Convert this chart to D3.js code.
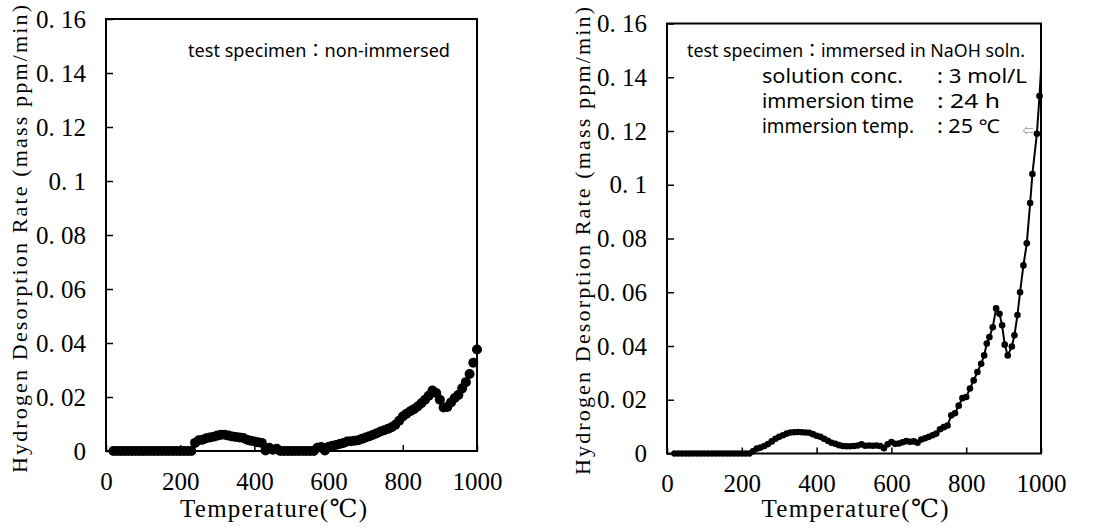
<!DOCTYPE html>
<html>
<head>
<meta charset="utf-8">
<script src="https://cdn.jsdelivr.net/npm/d3@7"></script>
<style>
body{margin:0;background:#fff;}
svg{display:block;}
</style>
</head>
<body>
<div id="plot"></div>
<script>
// axis ticks
var yTicks = [0, 0.02, 0.04, 0.06, 0.08, 0.1, 0.12, 0.14, 0.16];
var yTickLabels = ["0", "0. 02", "0. 04", "0. 06", "0. 08", "0. 1", "0. 12", "0. 14", "0. 16"];
var xTicks = [0, 200, 400, 600, 800, 1000];

var xTitle = "Temperature(℃)";
var yTitle = "Hydrogen Desorption Rate (mass ppm/min)";

// non-immersed specimen
var leftTemp = [20,30,40,50,60,70,80,90,100,110,120,130,140,150,160,170,180,190,200,210,220,230,
  240,250,260,270,280,290,300,310,320,330,340,350,360,370,380,390,400,410,420,430,440,450,460,470,
  480,490,500,510,520,530,540,550,560,570,580,590,600,610,620,630,640,650,660,670,680,690,700,710,
  720,730,740,750,760,770,780,790,800,810,820,830,840,850,860,870,880,890,900,910,920,930,940,950,
  960,970,980,990,1000];
var leftRate = [0,0,0,0,0,0,0,0,0,0,0,0,0,0,0,0,0,0,0,0,0,0,
  0.0030,0.0040,0.0042,0.0047,0.0050,0.0053,0.0057,0.0060,0.0060,0.0057,0.0054,0.0052,0.0050,0.0048,
  0.0042,0.0038,0.0035,0.0032,0.0030,0.0002,0.0012,0.0005,0.0008,0,
  0,0,0,0,0,0,0,0,0,0.0012,0.0015,0.0002,0.0016,0.0019,0.0022,0.0026,0.0030,0.0035,0.0036,0.0038,
  0.0040,0.0045,0.0050,0.0055,0.0060,0.0066,0.0072,0.0077,0.0082,0.0088,0.0097,0.0112,0.0128,0.0138,
  0.0147,0.0155,0.0165,0.0177,0.0190,0.0205,0.0224,0.0215,0.0190,0.0161,0.0163,0.0180,0.0196,0.0208,
  0.0232,0.0255,0.0285,0.0327,0.0376];

// specimen immersed in NaOH
var rightTemp = [20,30,40,50,60,70,80,90,100,110,120,130,140,150,160,170,180,190,200,210,220,
  230,240,250,260,270,280,290,300,310,320,330,340,350,360,370,380,390,400,410,420,430,440,450,460,
  470,480,490,500,510,520,530,540,550,560,570,580,590,600,610,620,630,640,650,660,670,680,690,700,
  710,720,730,740,750,760,770,780,790,800,810,820,830,840,848,855,862,871,880,889,896,903,911,922,
  929,937,944,953,962,971,977,989,996,1000];
var rightRate = [0,0,0,0,0,0,0,0,0,0,0,0,0,0,0,0,0,0,0,0,0,
  0.0008,0.0018,0.0022,0.0028,0.0035,0.0045,0.0055,0.0062,0.0068,0.0074,0.0078,0.0079,0.0080,0.0079,
  0.0078,0.0077,0.0072,0.0066,0.0062,0.0055,0.0047,0.0040,0.0036,0.0031,0.0028,0.0027,0.0027,0.0028,
  0.0030,0.0034,0.0029,0.0030,0.0029,0.0030,0.0028,0.0020,0.0034,0.0043,0.0036,0.0037,0.0042,0.0046,
  0.0044,0.0045,0.0040,0.0052,0.0057,0.0062,0.0068,0.0074,0.0090,0.0098,0.0104,0.0142,0.0150,0.0178,
  0.0206,0.0210,0.0242,0.0272,0.0303,0.0334,0.0365,0.0409,0.0433,0.0470,0.0540,0.0520,0.0477,0.0405,
  0.0365,0.0398,0.0440,0.0515,0.0600,0.0700,0.0782,0.0932,0.1040,0.1190,0.1330,0.1430];

var leftNote = "test specimen：non-immersed";
var rightNote = "test specimen：immersed in NaOH soln.";
var condNames = ["solution conc.", "immersion time", "immersion temp."];
var condValues = [": 3 mol/L", ": 24 h", ": 25 ℃"];

var svg = d3.select('#plot')
    .append('svg')
    .attr('width', 1105)
    .attr('height', 530);

var serif = "'Liberation Serif', 'DejaVu Serif', serif";
var sans = "'Noto Sans', 'Noto Sans CJK JP', sans-serif";

function drawPanel(p) {
    var x = d3.scaleLinear().domain([0, 1000]).range([p.l, p.r]);
    var y = d3.scaleLinear().domain([0, 0.16]).range([p.b, p.t]);
    var g = svg.append('g');

    var yAxis = g.append('g')
        .attr('transform', 'translate(' + p.l + ',0)')
        .call(d3.axisLeft(y).tickValues(yTicks).tickSize(-7).tickPadding(20)
            .tickFormat(function (d, i) { return yTickLabels[i]; }));
    var xAxis = g.append('g')
        .attr('transform', 'translate(0,' + p.b + ')')
        .call(d3.axisBottom(x).tickValues(xTicks).tickSize(-6).tickPadding(21)
            .tickFormat(d3.format('d')));

    [yAxis, xAxis].forEach(function (a) {
        a.attr('font-family', null).attr('font-size', null);
        a.select('.domain').remove();
        a.selectAll('line').attr('stroke', '#000').attr('stroke-width', 1.5);
        a.selectAll('text').attr('fill', '#000')
            .style('font-family', serif).style('font-size', '25px');
    });

    g.append('rect')
        .attr('x', p.l).attr('y', p.t)
        .attr('width', p.r - p.l).attr('height', p.b - p.t)
        .attr('fill', 'none').attr('stroke', '#000').attr('stroke-width', 2);

    // axis titles
    g.append('text')
        .attr('x', (p.l + p.r) / 2 - p.xtShift).attr('y', 517)
        .attr('text-anchor', 'middle')
        .attr('textLength', 187).attr('lengthAdjust', 'spacing')
        .style('font-family', serif).style('font-size', '25px')
        .text(xTitle);
    g.append('text')
        .attr('transform', 'translate(' + p.ytx + ',' + p.yty + ') rotate(-90)')
        .attr('text-anchor', 'middle')
        .attr('textLength', 468).attr('lengthAdjust', 'spacing')
        .style('font-family', serif).style('font-size', '22px')
        .text(yTitle);

    var pts = p.temp.map(function (t, i) { return [t, p.rate[i]]; });
    if (p.line) {
        g.append('path')
            .datum(pts)
            .attr('fill', 'none').attr('stroke', '#000').attr('stroke-width', 2)
            .attr('d', d3.line().x(function (d) { return x(d[0]); }).y(function (d) { return y(d[1]); }));
    }
    // the last point sits on the frame and shows no marker
    g.selectAll('circle.pt')
        .data(p.line ? pts.slice(0, -1) : pts)
        .enter().append('circle')
        .attr('class', 'pt')
        .attr('cx', function (d) { return x(d[0]); })
        .attr('cy', function (d) { return y(d[1]); })
        .attr('r', p.dot)
        .attr('fill', '#000');
    return g;
}

drawPanel({l: 106, r: 477, t: 19, b: 451, temp: leftTemp, rate: leftRate,
    dot: 5, line: false, xtShift: 18, ytx: 27, yty: 239});
drawPanel({l: 667, r: 1041, t: 23.5, b: 453.5, temp: rightTemp, rate: rightRate,
    dot: 3.3, line: true, xtShift: -1, ytx: 590, yty: 241});

// notes
svg.append('text')
    .attr('x', 188).attr('y', 57)
    .attr('textLength', 262).attr('lengthAdjust', 'spacingAndGlyphs')
    .style('font-family', sans).style('font-size', '18px')
    .text(leftNote);
svg.append('text')
    .attr('x', 687).attr('y', 57)
    .attr('textLength', 338).attr('lengthAdjust', 'spacingAndGlyphs')
    .style('font-family', sans).style('font-size', '18px')
    .text(rightNote);
var condWidths = [141, 152, 152];
var valueWidths = [90, 63, 63];
condNames.forEach(function (n, i) {
    svg.append('text')
        .attr('x', 762).attr('y', 83 + i * 25)
        .attr('textLength', condWidths[i])
        .attr('lengthAdjust', 'spacingAndGlyphs')
        .style('font-family', sans).style('font-size', '19px')
        .text(n);
    svg.append('text')
        .attr('x', 937).attr('y', 83 + i * 25)
        .attr('textLength', valueWidths[i])
        .attr('lengthAdjust', 'spacingAndGlyphs')
        .style('font-family', sans).style('font-size', '19px')
        .text(condValues[i]);
});
// small grey marker left of the point near 0.12
svg.append('text')
    .attr('x', 1028).attr('y', 135)
    .attr('text-anchor', 'middle')
    .style('font-family', sans).style('font-size', '11px')
    .attr('fill', '#999')
    .text('⇐');
</script>
</body>
</html>
